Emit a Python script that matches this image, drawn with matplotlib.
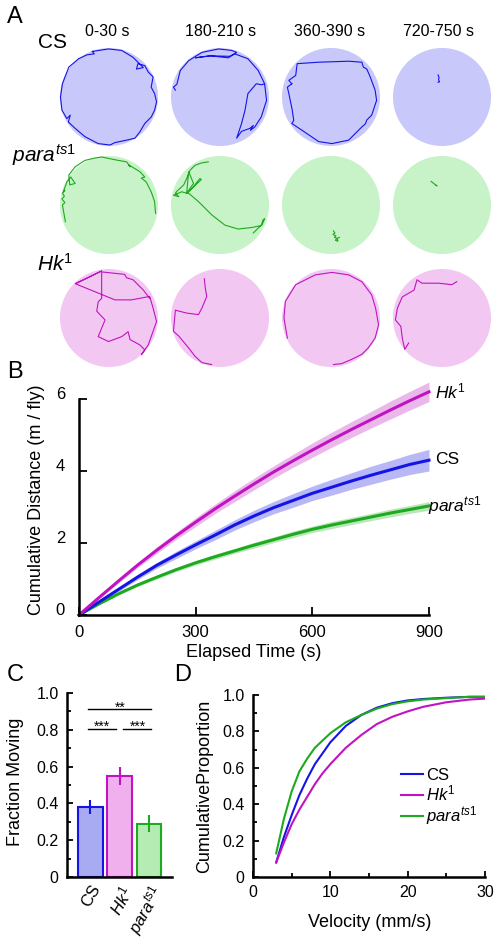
import matplotlib.pyplot as plt
from matplotlib.patches import Circle
from matplotlib.ticker import MultipleLocator
import matplotlib.transforms as mtransforms

plt.rcParams['font.family'] = ['Liberation Sans', 'DejaVu Sans']
plt.rcParams['mathtext.fontset'] = 'custom'
plt.rcParams['mathtext.it'] = 'Liberation Sans:italic'
plt.rcParams['mathtext.rm'] = 'Liberation Sans'

# ---------------- data ----------------
genotypes = ['CS', r'$Hk^{\mathit{1}}$', r'$para^{\mathit{ts1}}$']
windows = ['0-30 s', '180-210 s', '360-390 s', '720-750 s']

# panel A: example tracks, arena radius = 100
cs_tracks = [
    [(-34, 93), (-30, 88), (-45, 86), (-62, 78), (-82, 61), (-95, 27), (-99, 0), (-96, -27),
     (-86, -44), (-79, -37), (-83, -51), (-69, -64), (-49, -81), (-22, -95), (2, -98),
     (12, -93), (36, -88), (53, -84), (63, -71), (73, -54), (86, -41), (93, -27), (97, -10),
     (93, 7), (86, 20), (90, 41), (80, 51), (73, 64), (59, 68), (56, 57), (70, 60), (49, 81),
     (26, 95), (-1, 98), (-34, 93)],
    [(-91, 14), (-95, 20), (-88, 26), (-81, 54), (-64, 74), (-37, 91), (-3, 98), (24, 95),
     (34, 91), (20, 83), (-20, 84), (-50, 80), (-20, 84), (17, 80), (30, 88), (57, 78),
     (78, 54), (91, 27), (85, 25), (74, 27), (57, 7), (51, -27), (44, -54), (34, -84),
     (44, -70), (61, -64), (68, -58), (62, -68), (71, -61), (84, -41), (95, -7), (91, 27)],
    [(-80, 27), (-86, 34), (-72, 44), (-69, 68), (-25, 71), (36, 73), (63, 71), (66, 61),
     (73, 57), (80, 41), (90, 14), (93, -7), (83, -37), (73, -47), (70, -55), (63, -61),
     (36, -88), (2, -95), (-25, -91), (-59, -68), (-80, -54), (-76, -48), (-79, -27),
     (-86, 7), (-89, 20), (-80, 27)],
    [(-8, 45), (-6, 40), (-7, 35), (-5, 31), (-8, 30)],
]
para_tracks = [
    [(-89, -34), (-95, 0), (-90, 5), (-96, 12), (-91, 18), (-95, 24), (-90, 30), (-93, 27),
     (-86, 47), (-78, 57), (-69, 44), (-80, 41), (-82, 61), (-69, 78), (-49, 91), (-28, 96),
     (-15, 98), (-1, 95), (9, 93), (19, 91), (36, 88), (43, 78), (40, 82), (63, 68),
     (73, 57), (66, 55), (76, 47), (86, 27), (93, 7), (95, -17)],
    [(-24, 88), (-37, 86), (-51, 81), (-61, 71), (-68, 54), (-74, 41), (-88, 28), (-91, 24),
     (-84, 17), (-95, 20), (-78, 27), (-68, 24), (-57, 34), (-41, 54), (-38, 52), (-57, 34),
     (-68, 24), (-54, 44), (-64, 68), (-68, 24), (-64, 24), (-44, 7), (-17, -20), (10, -41),
     (37, -49), (64, -46), (84, -42), (88, -30), (91, -28), (86, -40), (78, -47), (68, -57)],
    [(5, -53), (8, -57), (4, -60), (10, -63), (7, -66), (12, -68), (9, -72), (14, -74),
     (13, -68), (17, -66)],
    [(-22, 48), (-17, 44), (-13, 41), (-10, 39), (-12, 40)],
]
hk_tracks = [
    [(-66, 71), (-15, 96), (-69, 70), (12, 37), (46, 37), (83, 44), (90, 20), (97, -7),
     (90, -27), (80, -55), (66, -75), (73, -65), (63, -55), (43, -44), (39, -28), (26, -38),
     (-1, -48), (-22, -38), (-18, -28), (-8, -4), (-25, 14), (-22, 33), (-15, 40),
     (-15, 61), (-15, 94), (32, 89), (36, 82), (49, 78), (70, 57), (83, 40)],
    [(-32, 80), (-30, 61), (-27, 44), (-37, 20), (-44, 7), (-68, 10), (-91, 16), (-95, -27),
     (-84, -37), (-64, -61), (-51, -78), (-37, -91), (-17, -95)],
    [(-89, -41), (-96, 0), (-93, 34), (-72, 68), (-32, 88), (2, 93), (36, 88), (63, 74),
     (83, 47), (91, 20), (97, -14), (90, -41), (76, -61), (63, -74), (43, -84), (22, -93),
     (5, -95)],
    [(30, 74), (20, 68), (-7, 71), (-41, 71), (-51, 78), (-57, 57), (-81, 43), (-91, 20),
     (-95, -4), (-84, -17), (-81, -41), (-76, -64), (-68, -51)],
]

# panel B: cumulative distance (m / fly), mean and sem
time_s = [0, 50, 100, 150, 200, 250, 300, 350, 400, 450, 500, 550, 600, 650, 700, 750, 800, 850, 900]
hk_dist = [0, 0.47, 0.93, 1.38, 1.8, 2.2, 2.58, 2.95, 3.3, 3.64, 3.97, 4.28, 4.58, 4.87, 5.15, 5.42, 5.69, 5.95, 6.2]
hk_sem = [0, 0.03, 0.05, 0.07, 0.09, 0.1, 0.12, 0.13, 0.15, 0.16, 0.17, 0.18, 0.2, 0.21, 0.22, 0.23, 0.25, 0.26, 0.27]
cs_dist = [0, 0.35, 0.7, 1.05, 1.38, 1.67, 1.95, 2.22, 2.5, 2.75, 2.98, 3.18, 3.38, 3.55, 3.72, 3.88, 4.03, 4.18, 4.3]
cs_sem = [0, 0.03, 0.05, 0.07, 0.08, 0.1, 0.11, 0.13, 0.14, 0.16, 0.17, 0.19, 0.2, 0.22, 0.23, 0.25, 0.26, 0.28, 0.3]
para_dist = [0, 0.3, 0.58, 0.83, 1.05, 1.26, 1.45, 1.62, 1.78, 1.94, 2.09, 2.24, 2.38, 2.5, 2.61, 2.72, 2.83, 2.93, 3.03]
para_sem = [0, 0.02, 0.03, 0.04, 0.05, 0.05, 0.06, 0.07, 0.07, 0.08, 0.08, 0.09, 0.09, 0.1, 0.1, 0.1, 0.11, 0.11, 0.12]

# panel C: fraction moving
frac_moving = [0.38, 0.55, 0.29]
frac_err = [0.04, 0.05, 0.045]

# panel D: cumulative velocity distribution
velocity = [3, 4, 5, 6, 7, 8, 9, 10, 12, 14, 16, 18, 20, 22, 25, 28, 30]
cs_cdf = [0.08, 0.22, 0.34, 0.45, 0.54, 0.62, 0.68, 0.74, 0.83, 0.89, 0.93, 0.955, 0.97, 0.978, 0.985, 0.99, 0.99]
hk_cdf = [0.08, 0.19, 0.29, 0.37, 0.44, 0.51, 0.57, 0.62, 0.71, 0.78, 0.84, 0.88, 0.91, 0.935, 0.96, 0.975, 0.98]
para_cdf = [0.13, 0.32, 0.47, 0.58, 0.65, 0.71, 0.75, 0.79, 0.85, 0.89, 0.925, 0.95, 0.965, 0.975, 0.983, 0.99, 0.99]

# ---------------- style ----------------
BLUE, MAG, GRN = '#1414e6', '#c014c0', '#1eaa1e'
ARENA = {'cs': '#c8c8fa', 'para': '#c8f2c8', 'hk': '#f2c8f2'}
BAR = ['#a9abf2', '#f0b0ee', '#b4ecb4']

W, H = 502, 946
fig = plt.figure(figsize=(W / 100, H / 100), dpi=100)


def box(l, t, r, b):
    return [l / W, 1 - b / H, (r - l) / W, (b - t) / H]


def put(x, y, s, **kw):
    fig.text(x / W, 1 - y / H, s, **kw)


def style_axes(ax, length=4, labelsize=11):
    for s in ['top', 'right']:
        ax.spines[s].set_visible(False)
    for s in ['left', 'bottom']:
        ax.spines[s].set_linewidth(1.8)
    ax.tick_params(which='both', direction='in', width=1.3, labelsize=labelsize, pad=6)
    ax.tick_params(which='major', length=length)
    ax.tick_params(which='minor', length=length * 0.8)


# ---------------- panel A ----------------
col_x = [109, 220, 331, 442]
rows = [(97, cs_tracks, ARENA['cs'], BLUE),
        (205, para_tracks, ARENA['para'], GRN),
        (318, hk_tracks, ARENA['hk'], MAG)]
for cy, tracks, fc, lc in rows:
    for cx, tr in zip(col_x, tracks):
        ax = fig.add_axes(box(cx - 50, cy - 50, cx + 50, cy + 50))
        ax.set_xlim(-102, 102)
        ax.set_ylim(-102, 102)
        ax.axis('off')
        ax.add_patch(Circle((0, 0), 100, fc=fc, ec='none'))
        ax.plot([p[0] for p in tr], [p[1] for p in tr], color=lc, lw=0.8)

put(15, 17, 'A', fontsize=17, ha='center', va='center')
for cx, w in zip([107, 221, 330, 439], windows):
    put(cx, 32, w, fontsize=11.5, ha='center', va='center')
put(53, 43, 'CS', fontsize=15, ha='center', va='center')
put(12, 155, genotypes[2], fontsize=15, ha='left', va='center')
put(37, 264, genotypes[1], fontsize=15, ha='left', va='center')

# ---------------- panel B ----------------
axb = fig.add_axes(box(79, 381, 429, 615))
for d, e, c in [(para_dist, para_sem, GRN), (cs_dist, cs_sem, BLUE), (hk_dist, hk_sem, MAG)]:
    lo = [a - b for a, b in zip(d, e)]
    hi = [a + b for a, b in zip(d, e)]
    axb.fill_between(time_s, lo, hi, color=c, alpha=0.3, lw=0, clip_on=False)
    axb.plot(time_s, d, color=c, lw=2.2, clip_on=False)
axb.set_xlim(0, 900)
axb.set_ylim(0, 6.5)
axb.set_xticks([0, 300, 600, 900])
axb.set_yticks([0, 2, 4, 6])
axb.spines['left'].set_bounds(0, 6)
style_axes(axb, length=6, labelsize=12)
axb.tick_params(axis='x', pad=7)
axb.tick_params(axis='y', pad=10)
shift = mtransforms.ScaledTranslation(0, 4 / 72, fig.dpi_scale_trans)
for lab in axb.get_yticklabels():
    lab.set_transform(lab.get_transform() + shift)
axb.text(915, 6.22, genotypes[1], fontsize=12.5, va='center', ha='left', clip_on=False)
axb.text(915, 4.33, genotypes[0], fontsize=12.5, va='center', ha='left', clip_on=False)
axb.text(897, 3.03, genotypes[2], fontsize=12.5, va='center', ha='left', clip_on=False)
put(15, 372, 'B', fontsize=17, ha='center', va='center')
put(254, 652, 'Elapsed Time (s)', fontsize=13, ha='center', va='center')
put(37, 500, 'Cumulative Distance (m / fly)', fontsize=13, ha='center', va='center', rotation=90)

# ---------------- panel C ----------------
axc = fig.add_axes(box(67, 693, 172, 877))
xpos = [0, 1, 2]
edge = [BLUE, MAG, GRN]
axc.bar(xpos, frac_moving, width=0.84, color=BAR, edgecolor=edge, linewidth=1.5)
axc.vlines(xpos, [m - e for m, e in zip(frac_moving, frac_err)],
           [m + e for m, e in zip(frac_moving, frac_err)], colors=edge, lw=1.5)
axc.set_xlim(-0.8, 2.78)
axc.set_ylim(0, 1.0)
axc.set_yticks([0, 0.2, 0.4, 0.6, 0.8, 1.0])
axc.set_yticklabels(['0', '0.2', '0.4', '0.6', '0.8', '1.0'])
axc.yaxis.set_minor_locator(MultipleLocator(0.1))
style_axes(axc, length=4, labelsize=11.5)
axc.set_xticks(xpos)
axc.set_xticklabels(genotypes, rotation=60, ha='right', rotation_mode='anchor', fontsize=12)
axc.tick_params(axis='x', length=0, pad=4)
axc.plot([-0.08, 2.08], [0.913, 0.913], color='k', lw=1)
axc.plot([-0.08, 0.87], [0.807, 0.807], color='k', lw=1)
axc.plot([1.11, 2.07], [0.807, 0.807], color='k', lw=1)
axc.text(1.0, 0.898, '**', fontsize=10, ha='center', va='baseline')
axc.text(0.4, 0.792, '***', fontsize=10, ha='center', va='baseline')
axc.text(1.6, 0.792, '***', fontsize=10, ha='center', va='baseline')
put(15, 675, 'C', fontsize=17, ha='center', va='center')
put(16, 782, 'Fraction Moving', fontsize=13, ha='center', va='center', rotation=90)

# ---------------- panel D ----------------
axd = fig.add_axes(box(253, 695, 485, 877))
axd.plot(velocity, cs_cdf, color=BLUE, lw=1.5, label=genotypes[0])
axd.plot(velocity, hk_cdf, color=MAG, lw=1.5, label=genotypes[1])
axd.plot(velocity, para_cdf, color=GRN, lw=1.5, label=genotypes[2])
axd.set_xlim(0, 30)
axd.set_ylim(0, 1.0)
axd.set_xticks([0, 10, 20, 30])
axd.set_yticks([0, 0.2, 0.4, 0.6, 0.8, 1.0])
axd.set_yticklabels(['0', '0.2', '0.4', '0.6', '0.8', '1.0'])
axd.xaxis.set_minor_locator(MultipleLocator(5))
axd.yaxis.set_minor_locator(MultipleLocator(0.1))
style_axes(axd, length=4, labelsize=11.5)
axd.legend(loc='upper left', bbox_to_anchor=(0.64, 0.6), frameon=False, fontsize=12,
           handlelength=1.3, handletextpad=0.2, labelspacing=0.05, borderpad=0, borderaxespad=0)
put(183, 675, 'D', fontsize=17, ha='center', va='center')
put(370, 922, 'Velocity (mm/s)', fontsize=13, ha='center', va='center')
put(205, 786, 'CumulativeProportion', fontsize=13, ha='center', va='center', rotation=90)

fig.savefig('out.png', dpi=100)
